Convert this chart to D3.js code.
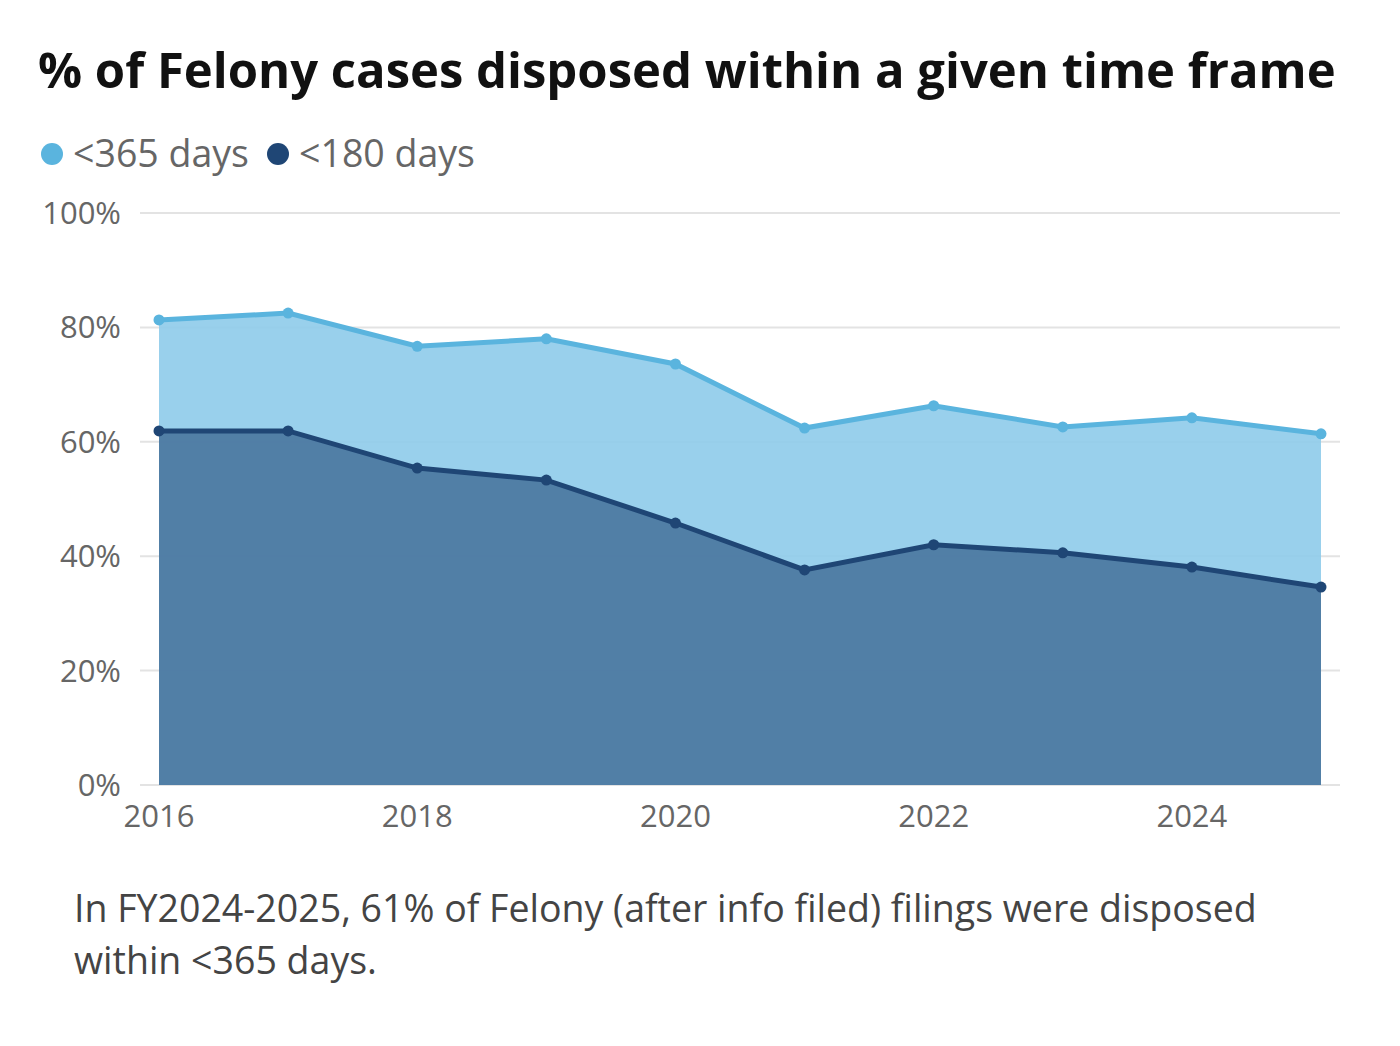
<!DOCTYPE html>
<html>
<head>
<meta charset="utf-8">
<script src="https://cdn.jsdelivr.net/npm/d3@7"></script>
<style>
  body { margin: 0; background: #fff; }
  svg { display: block; font-family: "Open Sans", "Noto Sans", sans-serif; }
</style>
</head>
<body>
<div id="chart"></div>
<script>
const years = [2016, 2017, 2018, 2019, 2020, 2021, 2022, 2023, 2024, 2025];
const within365 = [81.3, 82.5, 76.7, 78.0, 73.6, 62.4, 66.3, 62.6, 64.2, 61.4];
const within180 = [61.9, 61.9, 55.4, 53.3, 45.8, 37.6, 42.0, 40.6, 38.1, 34.6];
const yTicks = [0, 20, 40, 60, 80, 100];
const xTicks = [2016, 2018, 2020, 2022, 2024];

const width = 1400;
const height = 1046;

const svg = d3.select('#chart')
  .append('svg')
  .attr('width', width)
  .attr('height', height);

const x = d3.scaleLinear().domain([2016, 2025]).range([159, 1321]);
const y = d3.scaleLinear().domain([0, 100]).range([785, 213]);

// title
svg.append('text')
  .attr('x', 38)
  .attr('y', 88)
  .attr('font-size', 49)
  .attr('font-weight', 700)
  .attr('fill', '#111')
  .text('% of Felony cases disposed within a given time frame');

// legend
const legend = [
  { label: '<365 days', color: '#5ab4de', x: 52 },
  { label: '<180 days', color: '#1f4675', x: 278 }
];
legend.forEach(d => {
  svg.append('circle').attr('cx', d.x).attr('cy', 154).attr('r', 11).attr('fill', d.color);
  svg.append('text')
    .attr('x', d.x + 21)
    .attr('y', 167)
    .attr('font-size', 37.5)
    .attr('fill', '#666')
    .text(d.label);
});

// gridlines
svg.append('g')
  .selectAll('line')
  .data(yTicks)
  .enter()
  .append('line')
  .attr('x1', 140)
  .attr('x2', 1340)
  .attr('y1', d => y(d))
  .attr('y2', d => y(d))
  .attr('stroke', '#e3e3e3')
  .attr('stroke-width', 2);

// y tick labels
svg.append('g')
  .selectAll('text')
  .data(yTicks)
  .enter()
  .append('text')
  .attr('x', 121)
  .attr('y', d => y(d) + 11)
  .attr('text-anchor', 'end')
  .attr('font-size', 31)
  .attr('fill', '#666')
  .text(d => d + '%');

// x tick labels
svg.append('g')
  .selectAll('text')
  .data(xTicks)
  .enter()
  .append('text')
  .attr('x', d => x(d))
  .attr('y', 827)
  .attr('text-anchor', 'middle')
  .attr('font-size', 31)
  .attr('fill', '#666')
  .text(d => d);

const series = [
  { values: within365, fill: '#8ecbea', line: '#5ab4de' },
  { values: within180, fill: '#49759e', line: '#1f4675' }
];

series.forEach(s => {
  const pts = years.map((yr, i) => [yr, s.values[i]]);
  const area = d3.area().x(d => x(d[0])).y0(y(0)).y1(d => y(d[1]));
  const line = d3.line().x(d => x(d[0])).y(d => y(d[1]));
  svg.append('path')
    .attr('d', area(pts))
    .attr('fill', s.fill)
    .attr('fill-opacity', 0.9);
  svg.append('path')
    .attr('d', line(pts))
    .attr('fill', 'none')
    .attr('stroke', s.line)
    .attr('stroke-width', 5);
  svg.append('g')
    .selectAll('circle')
    .data(pts)
    .enter()
    .append('circle')
    .attr('cx', d => x(d[0]))
    .attr('cy', d => y(d[1]))
    .attr('r', 5.5)
    .attr('fill', s.line);
});

// caption
const caption = [
  'In FY2024-2025, 61% of Felony (after info filed) filings were disposed',
  'within <365 days.'
];
svg.append('g')
  .selectAll('text')
  .data(caption)
  .enter()
  .append('text')
  .attr('x', 74)
  .attr('y', (d, i) => 922 + i * 52)
  .attr('font-size', 37.5)
  .attr('fill', '#444')
  .text(d => d);
</script>
</body>
</html>
